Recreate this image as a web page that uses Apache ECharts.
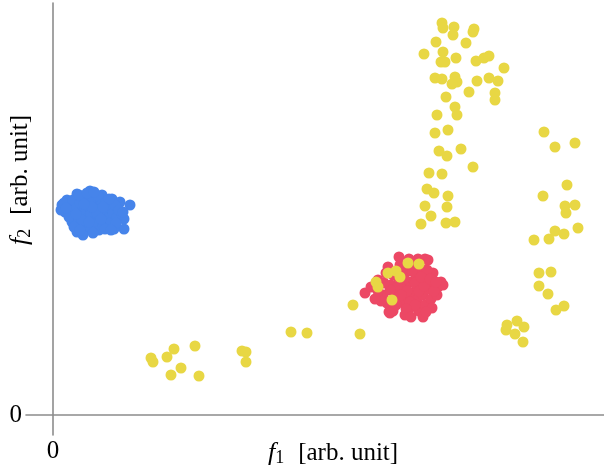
<!DOCTYPE html>
<html>
<head>
<meta charset="utf-8">
<script src="https://cdn.jsdelivr.net/npm/echarts@6/dist/echarts.min.js"></script>
<style>html,body{margin:0;padding:0;background:#fff}#c{width:604px;height:468px}</style>
</head>
<body>
<div id="c"></div>
<script>
// Data in arbitrary units
const blueCluster = [[9,210],[14,215],[24,221],[37,224],[49,220],[59,216],[67,213],[77,210],[71,196],[71,186],[61,186],[54,191],[46,185],[32,186],[24,183],[19,193],[12,203],[30,180],[8,205],[11,212],[16,208],[18,200],[20,215],[22,206],[25,197],[27,212],[28,190],[30,203],[32,217],[33,196],[35,209],[37,188],[38,201],[40,214],[42,194],[43,206],[45,219],[47,199],[48,210],[50,190],[51,203],[53,213],[55,197],[57,207],[58,193],[60,202],[62,210],[64,198],[66,205],[26,220],[34,222],[41,223],[29,195],[36,193],[52,186],[63,192],[56,216],[16,198],[21,188],[44,202],[39,208],[31,211],[23,201],[50,208],[70,203],[13,207],[27,185],[40,182],[48,196],[58,185]];
const redCluster = [[312,122],[318,128],[325,135],[330,120],[334,112],[335,148],[338,130],[340,104],[342,122],[345,138],[347,150],[348,113],[350,128],[352,100],[353,143],[355,118],[357,133],[358,108],[360,152],[361,123],[363,140],[364,115],[366,104],[367,130],[368,146],[370,120],[372,110],[373,137],[375,155],[376,126],[378,116],[380,142],[382,132],[384,120],[386,130],[374,145],[379,107],[370,98],[365,156],[356,156],[346,158],[336,103],[328,114],[333,142],[322,116],[344,128],[351,136],[359,144],[362,132],[354,124],[348,120],[340,140],[357,113],[366,124],[371,129],[362,110],[337,125],[331,132],[325,124],[343,110],[353,106],[349,145],[368,138],[377,136],[373,103],[358,98],[385,128],[388,133],[381,124],[390,130],[383,133],[372,156],[337,102]];
const yellowPoints = [
 [389,392],[390,387],[401,388],[400,380],[421,386],[420,383],[383,373],[413,372],[371,361],[390,363],[388,353],[392,353],[403,357],[423,354],[431,357],[436,359],[451,347],[382,337],[389,336],[402,338],[404,333],[399,331],[424,334],[436,337],[445,334],[442,322],[442,315],[416,323],[393,318],[402,308],[384,300],[404,300],[382,282],[395,285],[386,264],[394,259],[408,266],[420,248],[376,242],[389,241],[374,226],[381,222],[395,219],[372,209],[394,208],[378,199],[368,191],[393,192],[402,193],
 [491,283],[502,268],[522,272],[514,230],[490,219],[512,209],[522,210],[513,202],[525,187],[502,184],[511,181],[496,176],[481,175],[486,142],[498,143],[486,129],[495,121],[511,109],[503,105],[454,90],[464,94],[471,88],[453,85],[462,81],[470,73],
 [98,57],[100,53],[114,58],[121,66],[142,69],[128,47],[118,40],[146,39],[189,64],[193,63],[193,53],[238,83],[254,82],
 [300,110],[307,81],[355,152],[366,151],[335,142],[343,144],[347,138],[323,133],[325,128],[339,115]
];
const xTickValues = [0];
const yTickValues = [0];
const xName = ['f', '1', '[arb. unit]'];
const yName = ['f', '2', '[arb. unit]'];

const FONT = 'Liberation Serif';
const rich = {
  f: {fontFamily: FONT, fontStyle: 'italic', fontSize: 26, color: '#000'},
  s: {fontFamily: FONT, fontSize: 18, color: '#000', padding: [10, 0, 0, 0]},
  t: {fontFamily: FONT, fontSize: 25, color: '#000', padding: [0, 0, 0, 14]}
};
const chart = echarts.init(document.getElementById('c'), null, {renderer: 'canvas'});
const axisLine = {onZero: true, lineStyle: {color: '#8c8c8c', width: 1.6}};
chart.setOption({
  backgroundColor: '#fff',
  animation: false,
  grid: {left: 26, right: 0, top: 3, bottom: 33, containLabel: false, outerBoundsMode: 'none'},
  xAxis: {
    type: 'value', min: -27, max: 551,
    axisLine: axisLine, axisTick: {show: false}, splitLine: {show: false},
    axisLabel: {customValues: xTickValues, margin: 4, fontFamily: FONT, fontSize: 25, color: '#000'}
  },
  yAxis: {
    type: 'value', min: -20, max: 412,
    axisLine: axisLine, axisTick: {show: false}, splitLine: {show: false},
    axisLabel: {customValues: yTickValues, margin: 4, fontFamily: FONT, fontSize: 25, color: '#000', padding: [0, 0, 4, 0]}
  },
  graphic: [
    {type: 'text', x: 333, y: 453, style: {text: '{f|' + xName[0] + '}{s|' + xName[1] + '}{t|' + xName[2] + '}', rich: rich, align: 'center', verticalAlign: 'middle'}},
    {type: 'text', x: 20, y: 180, rotation: Math.PI / 2, style: {text: '{f|' + yName[0] + '}{s|' + yName[1] + '}{t|' + yName[2] + '}', rich: rich, align: 'center', verticalAlign: 'middle'}}
  ],
  series: [
    {type: 'scatter', data: blueCluster, symbolSize: 11, itemStyle: {color: '#4684ea', opacity: 1}},
    {type: 'scatter', data: redCluster, symbolSize: 11, itemStyle: {color: '#ec4865', opacity: 1}},
    {type: 'scatter', data: yellowPoints, symbolSize: 11, itemStyle: {color: '#e8d744', opacity: 1}}
  ]
});
</script>
</body>
</html>
